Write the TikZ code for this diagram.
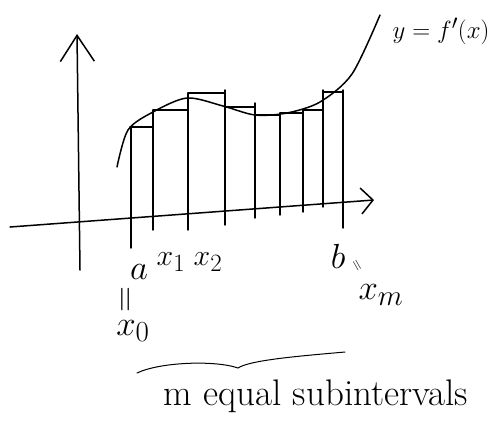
\documentclass[tikz,border=0pt]{standalone}
\usepackage{amsmath}
\usetikzlibrary{arrows.meta, positioning}
\tikzset{%
	axis/.style={line width=1.5pt, line cap=round},
	graph/.style={line width=1.5pt, line cap=round},
	bar/.style={line width=1.4pt, line cap=round},
	lbl/.style={inner sep=0pt, font=\Huge, scale=1.4},
	sublbl/.style={inner sep=0pt, font=\Huge, scale=1.2},
	eqsign/.style={inner sep=0pt, font=\fontsize{36}{40}\selectfont},
	brace/.style={line width=1pt, line cap=round}
}
\begin{document}
\begin{tikzpicture}[x=1pt, y=-1pt]
	\useasboundingbox (0,0) rectangle (492,426);

	% axes
	\coordinate (ylo) at (80,270);
	\coordinate (yhi) at (77,34);
	\coordinate (xlo) at (10,227);
	\coordinate (xhi) at (374,200);
	\draw[axis, -{Straight Barb[length=26pt, width=34pt]}] (ylo) -- (yhi);
	\draw[axis, -{Straight Barb[length=12pt, width=26pt]}] (xlo) -- (xhi);

	% rectangles
	\foreach \xa/\xb/\h in {130/153/127, 153/188/110, 188/225/93, 225/255/107,
		255/280/115, 280/303/113, 303/323/110, 323/343/92}
		\draw[bar] (\xa,\h) -- (\xb,\h);
	\foreach \x/\t/\b in {131/127/248, 153/110/230, 188/93/230, 225/90/225,
		255/103/218, 280/113/215, 303/110/212, 323/90/207, 343/90/228}
		\draw[bar] (\x,\t) -- (\x,\b);

	% the graph
	\draw[graph] plot[smooth] coordinates {(117,167) (128,130) (153,112)
		(187,98) (223,106) (255,115) (287,113) (320,102) (352,74) (380,15)};
	\node[inner sep=0pt, font=\Huge] (fn) at (441,31) {$y=f'(x)$};

	% points
	\node[lbl] (a)    at (139,272) {$a$};
	\node[sublbl] (x1) at (171,262) {$x_1$};
	\node[sublbl] (x2) at (208,262) {$x_2$};
	\node[eqsign, rotate=90] (eqa) at (128,300) {=};
	\node[lbl] (x0)   at (133,331) {$x_0$};
	\node[lbl] (b)    at (338,256) {$b$};
	\node[eqsign, rotate=-60, scale=0.45] (eqb) at (356,266) {=};
	\node[lbl] (xm)   at (381,295) {$x_m$};

	% brace
	\coordinate (bl) at (137,373);
	\coordinate (bm) at (238,368);
	\coordinate (br) at (345,352);
	\draw[brace] (bl) .. controls (160,362) and (215,360) .. (bm)
		.. controls (250,360) and (300,356) .. (br);
	\node[inner sep=0pt, font=\fontsize{37}{40}\selectfont] (msub) at (316,396) {m equal subintervals};
\end{tikzpicture}
\end{document}
